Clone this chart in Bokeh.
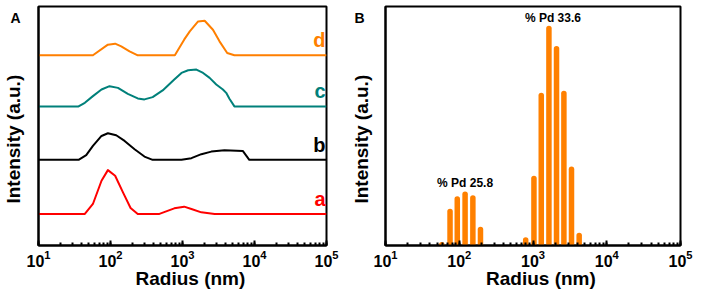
from bokeh.plotting import figure
from bokeh.layouts import row
from bokeh.models import LogTicker, FixedTicker
from bokeh.core.properties import value
from bokeh.embed import file_html
from bokeh.resources import INLINE

# ---------------- data (panel A: DLS curves, stacked) ----------------
radius_a = [10, 44, 57, 75, 92, 116, 149, 190, 239, 478, 769, 1054, 1330, 1828, 2793, 100000]
intensity_a = [0, 0, 10, 33.3, 44, 38.3, 21.6, 6, 0, 0, 5.6, 7.3, 5, 1.6, 0, 0]

radius_b = [10, 36, 46, 57, 75, 92, 120, 157, 216, 296, 385, 968, 1330, 1828, 2512, 3828, 6871, 8472, 100000]
intensity_b = [0, 0, 4.7, 14, 24, 26.7, 24.7, 19, 10.7, 3.3, 0, 0, 1.7, 5.7, 8.3, 9.7, 9, 0, 0]

radius_c = [10, 36, 44, 57, 75, 97, 127, 174, 239, 296, 385, 530, 769, 968, 1199, 1560,
            1932, 2382, 2944, 3639, 4046, 4487, 5260, 100000]
intensity_c = [0, 0, 3.6, 10.3, 17, 20.3, 18.6, 12.6, 8, 7, 9.3, 16, 27, 33.6, 36.3, 37,
               33.6, 28.6, 22, 17, 13.6, 7.6, 0, 0]

radius_d = [10, 57, 92, 116, 141, 184, 239, 783, 1054, 1262, 1648, 2032, 2649, 3266, 4178, 5260, 100000]
intensity_d = [0, 0, 10.7, 11.7, 9, 4, 0, 0, 15.7, 24, 34, 34.7, 25.7, 14, 2.3, 0, 0]

curve_names = ["a", "b", "c", "d"]
curve_offsets = [31.7, 86, 139.7, 191]
curve_colors = ["#FF0000", "#000000", "#00807A", "#FF7F00"]

# ---------------- data (panel B: histogram) ----------------
bar_radius = [58, 75, 94, 120, 153, 194, 796, 1030, 1294, 1644, 2084, 2624, 3327, 4227]
bar_height = [3.5, 37, 49.5, 54.3, 50.5, 18.7, 8.3, 70, 153.3, 220.7, 200.3, 155.3, 79.3, 12.7]
peak_labels = ["% Pd 25.8", "% Pd 33.6"]
peak_radius = [120, 1644]
peak_height = [54.3, 220.7]

FONT = "Liberation Sans"
PANEL_LABEL_Y = 228
NBSP = "\u00a0"
X_TITLE = NBSP * 3 + "Radius (nm)"
Y_TITLE = "Intensity (a.u.)" + NBSP * 5


def make_fig(width, left, right, top, letter, letter_standoff, title_standoff):
    p = figure(width=width, height=300, x_axis_type="log", x_range=(10, 1e5), y_range=(0, 240),
               output_backend="svg", toolbar_location=None, title=None,
               min_border_left=left, min_border_right=right,
               min_border_top=top, min_border_bottom=300 - 240 - top)
    p.background_fill_color = "white"
    p.border_fill_color = "white"
    p.grid.visible = False
    p.outline_line_color = "black"
    p.outline_line_width = 2
    p.outline_line_alpha = 1

    xa = p.xaxis[0]
    xa.ticker = LogTicker(num_minor_ticks=10, mantissas=[1], desired_num_ticks=5)
    xa.axis_line_width = 2
    xa.major_tick_in = 5
    xa.major_tick_out = 0
    xa.minor_tick_in = 3
    xa.minor_tick_out = 0
    xa.major_tick_line_width = 2
    xa.minor_tick_line_width = 2
    xa.major_label_text_font = FONT
    xa.major_label_text_font_style = "bold"
    xa.major_label_text_font_size = "16px"
    xa.major_label_text_color = "black"
    xa.major_label_standoff = 4
    xa.axis_label = X_TITLE
    xa.axis_label_text_font = FONT
    xa.axis_label_text_font_style = "bold"
    xa.axis_label_text_font_size = "19px"
    xa.axis_label_text_color = "black"
    xa.axis_label_standoff = -2

    # left axis: no ticks; its single tick label carries the panel letter
    ya = p.yaxis[0]
    ya.ticker = FixedTicker(ticks=[PANEL_LABEL_Y])
    ya.major_label_overrides = {PANEL_LABEL_Y: letter}
    ya.major_label_text_font = FONT
    ya.major_label_text_font_style = "bold"
    ya.major_label_text_font_size = "14px"
    ya.major_label_text_color = "black"
    ya.major_label_standoff = letter_standoff
    ya.axis_line_width = 2
    ya.major_tick_in = 0
    ya.major_tick_out = 0
    ya.minor_tick_in = 0
    ya.minor_tick_out = 0
    ya.major_tick_line_color = None
    ya.minor_tick_line_color = None
    ya.axis_label = Y_TITLE
    ya.axis_label_text_font = FONT
    ya.axis_label_text_font_style = "bold"
    ya.axis_label_text_font_size = "19px"
    ya.axis_label_text_color = "black"
    ya.axis_label_standoff = title_standoff
    return p


# ---------------- panel A ----------------
pA = make_fig(348, 36, 22, 5, "A", 18, -17)
series = [(radius_a, intensity_a), (radius_b, intensity_b), (radius_c, intensity_c), (radius_d, intensity_d)]
for (rad, inten), off, col in zip(series, curve_offsets, curve_colors):
    pA.line(rad, [v + off for v in inten], line_color=col, line_width=2, line_join="round")

pA.text(x=[1e5] * 4, y=[o + 15 for o in curve_offsets], text=curve_names, text_color=curve_colors,
        text_font=value(FONT), text_font_style="bold", text_font_size="20px",
        text_align="right", text_baseline="alphabetic", x_offset=-1)

# ---------------- panel B ----------------
pB = make_fig(354, 35, 22, 6, "B", 21, -21)
cap = 2.75
pB.segment(x0=bar_radius, y0=[0] * len(bar_radius), x1=bar_radius,
           y1=[max(h - cap, 0) for h in bar_height],
           line_color="#FF8000", line_width=5.5, line_cap="round")
pB.text(x=peak_radius, y=[h + 8 for h in peak_height], text=peak_labels, text_color="black",
        text_font=value(FONT), text_font_style="bold", text_font_size="12px",
        text_align="center", text_baseline="alphabetic", x_offset=[0, 4])

layout = row(pA, pB)
open("out.html", "w").write(file_html(layout, INLINE))
